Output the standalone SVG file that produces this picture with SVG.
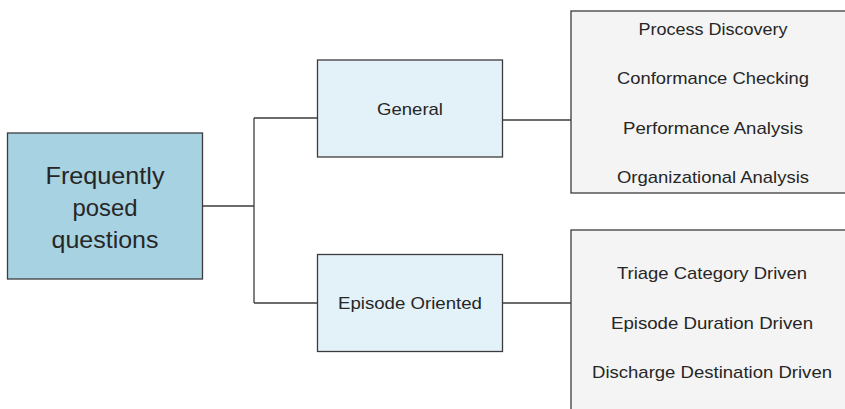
<svg xmlns="http://www.w3.org/2000/svg" width="845" height="409" viewBox="0 0 845 409">
<style>
.box{stroke:#3c3c3c;stroke-width:1.3}
.root{fill:#a6d2e2}
.mid{fill:#e3f1f8}
.leaf{fill:#f4f4f4}
.c{fill:none;stroke:#3c3c3c;stroke-width:1.3}
text{font-family:"Liberation Sans",Arial,sans-serif;fill:#262626;text-anchor:middle;dominant-baseline:central;lengthAdjust:spacingAndGlyphs}
.t1{font-size:24px}
.t2{font-size:17px}
</style>
<rect width="845" height="409" fill="#ffffff"/>
<g id="connectors">
<path class="c" d="M202 206H254M254 118V303M254 118H317M254 303H317M502 120H571M502 303H571"/>
</g>
<g id="root">
<rect class="box root" x="7.5" y="133" width="195" height="146"/>
<text class="t1" x="105" y="175" textLength="119" lengthAdjust="spacingAndGlyphs">Frequently</text>
<text class="t1" x="105" y="207" textLength="65" lengthAdjust="spacingAndGlyphs">posed</text>
<text class="t1" x="105" y="239" textLength="107" lengthAdjust="spacingAndGlyphs">questions</text>
</g>
<g id="general">
<rect class="box mid" x="317.5" y="60" width="185" height="97"/>
<text class="t2" x="410" y="109" textLength="66" lengthAdjust="spacingAndGlyphs">General</text>
</g>
<g id="episode">
<rect class="box mid" x="317.5" y="254.5" width="185" height="97"/>
<text class="t2" x="410" y="303" textLength="144" lengthAdjust="spacingAndGlyphs">Episode Oriented</text>
</g>
<g id="general-list">
<rect class="box leaf" x="571" y="11" width="290" height="182"/>
<text class="t2" x="713" y="29" textLength="149" lengthAdjust="spacingAndGlyphs">Process Discovery</text>
<text class="t2" x="713" y="78" textLength="192" lengthAdjust="spacingAndGlyphs">Conformance Checking</text>
<text class="t2" x="713" y="128" textLength="180" lengthAdjust="spacingAndGlyphs">Performance Analysis</text>
<text class="t2" x="713" y="177" textLength="192" lengthAdjust="spacingAndGlyphs">Organizational Analysis</text>
</g>
<g id="episode-list">
<rect class="box leaf" x="571" y="230" width="290" height="200"/>
<text class="t2" x="712" y="273" textLength="190" lengthAdjust="spacingAndGlyphs">Triage Category Driven</text>
<text class="t2" x="712" y="323" textLength="202" lengthAdjust="spacingAndGlyphs">Episode Duration Driven</text>
<text class="t2" x="712" y="372" textLength="240" lengthAdjust="spacingAndGlyphs">Discharge Destination Driven</text>
</g>
</svg>
